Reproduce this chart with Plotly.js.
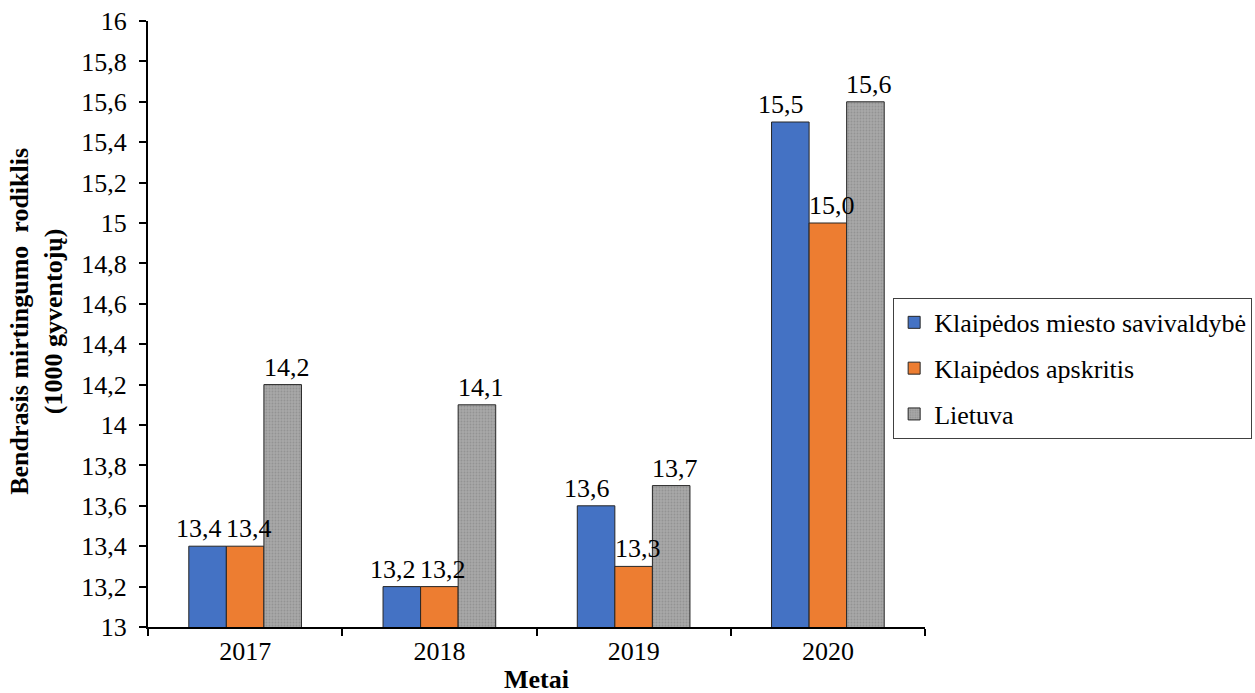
<!DOCTYPE html>
<html><head><meta charset="utf-8">
<script src="https://cdn.plot.ly/plotly-3.0.1.min.js"></script>
<style>body{margin:0;background:#fff}#c{width:1255px;height:693px}</style>
</head><body><div id="c"></div>
<script>
const years = ["2017", "2018", "2019", "2020"];
const seriesNames = ["Klaipėdos miesto savivaldybė", "Klaipėdos apskritis", "Lietuva"];
const miestas = [13.4, 13.2, 13.6, 15.5];
const apskritis = [13.4, 13.2, 13.3, 15.0];
const lietuva = [14.2, 14.1, 13.7, 15.6];
const colors = ["#4472C4", "#ED7D31", "#A5A5A5"];
const F = "Liberation Serif";

const vals = [miestas, apskritis, lietuva];
const traces = vals.map((v, i) => {
  const marker = {color: colors[i], line: {color: "#262626", width: 1}};
  if (i === 2) marker.pattern = {shape: ".", bgcolor: "#A8A8A8", fgcolor: "#939393", size: 3, solidity: 0.3, fillmode: "replace"};
  return {
    type: "bar", x: years, y: v, name: seriesNames[i],
    legendgroup: "g" + i,
    marker: marker,
    hoverinfo: "none"
  };
});

// data labels drawn on top of all bars, placed at each bar via the axes
// (category axis: annotation x is the category's serial number)
const barPx = 37.6;          // width of one bar in px (style)
const labelNudge = [-9, 4, 4];
const labels = [];
vals.forEach((v, i) => {
  v.forEach((val, j) => {
    labels.push({
      xref: "x", yref: "y", x: years.indexOf(years[j]), y: val,
      xshift: (i - 1) * barPx + labelNudge[i], yshift: 1,
      xanchor: "center", yanchor: "bottom", showarrow: false,
      text: val.toFixed(1).replace(".", ","),
      font: {family: F, size: 26, color: "#000"}
    });
  });
});

const layout = {
  width: 1255, height: 693,
  margin: {l: 148, r: 330, t: 21, b: 66, autoexpand: false},
  paper_bgcolor: "#fff", plot_bgcolor: "#fff",
  separators: ",.",
  font: {family: F, size: 26, color: "#000"},
  barmode: "group", bargap: 0.42, bargroupgap: 0,
  showlegend: true,
  legend: {
    x: 0.959, y: 0.543, xanchor: "left", yanchor: "top",
    bordercolor: "#404040", borderwidth: 1, bgcolor: "#fff",
    font: {family: F, size: 26, color: "#000"},
    traceorder: "grouped", tracegroupgap: 9, itemwidth: 30
  },
  xaxis: {
    type: "category", categoryorder: "array", categoryarray: years,
    tickson: "boundaries", ticks: "outside", ticklen: 7, tickwidth: 2, tickcolor: "#000",
    showline: true, linecolor: "#000", linewidth: 2, showgrid: false,
    tickfont: {family: F, size: 26}
  },
  yaxis: {
    range: [13, 16], dtick: 0.2, tick0: 13, ticks: "outside", ticklen: 7, tickwidth: 2, tickcolor: "#000",
    showline: true, linecolor: "#000", linewidth: 2, showgrid: false, zeroline: false,
    tickfont: {family: F, size: 26}, ticklabelstandoff: 7
  },
  annotations: labels.concat([{
    xref: "paper", yref: "paper", x: -0.143, y: 0.505, xanchor: "center", yanchor: "middle",
    textangle: -90, showarrow: false,
    text: "<b>Bendrasis mirtingumo  rodiklis<br>(1000 gyventojų)</b>",
    font: {family: F, size: 26, color: "#000"}
  }, {
    xref: "paper", yref: "paper", x: 0.5, y: -0.087, xanchor: "center", yanchor: "middle",
    showarrow: false, text: "<b>Metai</b>",
    font: {family: F, size: 26, color: "#000"}
  }])
};
Plotly.newPlot("c", traces, layout, {displayModeBar: false, staticPlot: true});
</script></body></html>
